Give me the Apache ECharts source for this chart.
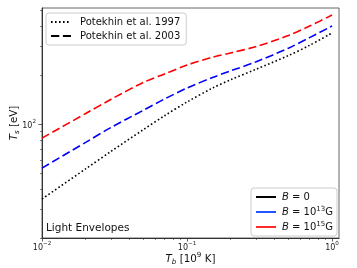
<!DOCTYPE html>
<html><head><meta charset="utf-8">
<script src="https://cdn.jsdelivr.net/npm/echarts@6/dist/echarts.min.js"></script>
<style>html,body{margin:0;padding:0;background:#fff}#c{width:357px;height:268px}</style>
</head><body><div id="c"></div>
<script>
// Core temperature T_b [10^9 K]
const tb    = [0.01, 0.02, 0.03, 0.05, 0.07, 0.1, 0.15, 0.2, 0.3, 0.5, 0.7, 1.0];
// Surface temperature T_s [eV]
const tsB0  = [34.7, 53.1, 68.1, 92.4, 112.5, 136.5, 166.3, 187, 217, 263, 304, 362];   // Potekhin 1997, B=0
const tsB13 = [53.7, 77.2, 95.4, 121.5, 142.5, 166.3, 193, 212, 241, 292, 339, 399];    // Potekhin 2003, B=1e13
const tsB15 = [82, 116, 142, 180, 203, 230, 257, 273, 299, 349, 399, 466];              // Potekhin 2003, B=1e15
const xMajor = [0.01, 0.1, 1];
const xMinor = [0.02,0.03,0.04,0.05,0.06,0.07,0.08,0.09,0.2,0.3,0.4,0.5,0.6,0.7,0.8,0.9];
const yMajor = [100];
const yMinor = [20,30,40,50,60,70,80,90,200,300,400,500];
const xRange = [0.01, 1.117];
const yRange = [20, 515];

const FONT = 'DejaVu Sans';
const L = Math.log10;
const pairs = ys => tb.map((x, i) => [L(x), L(ys[i])]);
const pow10 = v => { const e = Math.round(v); return '{b|10}{s|' + (e < 0 ? '\u2212' + (-e) : e) + '}'; };
const tickRich = {
  b: {fontSize: 8, fontFamily: FONT, color: '#222', lineHeight: 11, verticalAlign: 'bottom'},
  s: {fontSize: 5.6, fontFamily: FONT, color: '#222', verticalAlign: 'top'}
};
const NF = 10.3;
function nameStyle() {
  return {
    fontSize: NF, fontFamily: FONT, color: '#111',
    rich: {
      n: {fontSize: NF, fontFamily: FONT, color: '#111', lineHeight: 14},
      i: {fontSize: NF, fontFamily: FONT, fontStyle: 'italic', color: '#111', lineHeight: 14},
      sub: {fontSize: 7.2, fontFamily: FONT, fontStyle: 'italic', color: '#111', verticalAlign: 'bottom'},
      sup: {fontSize: 7.2, fontFamily: FONT, color: '#111', verticalAlign: 'top'}
    }
  };
}
const axisCol = '#333';

function mainX() {
  return {type: 'value', gridIndex: 0, position: 'bottom', min: L(xRange[0]), max: L(xRange[1]),
    axisLine: {show: true, onZero: false, lineStyle: {color: axisCol, width: 1}},
    axisTick: {show: true, length: 3.5, lineStyle: {color: axisCol, width: 0.8}, customValues: xMajor.map(L)},
    axisLabel: {show: true, customValues: xMajor.map(L), formatter: pow10, rich: tickRich, margin: 3},
    splitLine: {show: false},
    name: '{i|T}{sub|b}{n| [10}{sup|9}{n| K]}', nameLocation: 'middle', nameGap: 14, nameMoveOverlap: false,
    nameTextStyle: nameStyle()};
}
function minorX() {
  return {type: 'value', gridIndex: 0, position: 'bottom', min: L(xRange[0]), max: L(xRange[1]),
    axisLine: {show: false, onZero: false}, axisLabel: {show: false}, splitLine: {show: false},
    axisTick: {show: true, length: 2, lineStyle: {color: axisCol, width: 0.6}, customValues: xMinor.map(L)}};
}
function mainY() {
  return {type: 'value', gridIndex: 0, position: 'left', min: L(yRange[0]), max: L(yRange[1]),
    axisLine: {show: true, onZero: false, lineStyle: {color: axisCol, width: 1}},
    axisTick: {show: true, length: 3.5, lineStyle: {color: axisCol, width: 0.8}, customValues: yMajor.map(L)},
    axisLabel: {show: true, customValues: yMajor.map(L), formatter: pow10, rich: tickRich, margin: 6},
    splitLine: {show: false},
    name: '{i|T}{sub|s}{n| [eV]}', nameLocation: 'middle', nameGap: 21, nameRotate: 90, nameMoveOverlap: false,
    nameTextStyle: nameStyle()};
}
function minorY() {
  return {type: 'value', gridIndex: 0, position: 'left', min: L(yRange[0]), max: L(yRange[1]),
    axisLine: {show: false, onZero: false}, axisLabel: {show: false}, splitLine: {show: false},
    axisTick: {show: true, length: 2, lineStyle: {color: axisCol, width: 0.6}, customValues: yMinor.map(L)}};
}

const DASH = [8.3, 3.6];
const DOT = [1.6, 2.4];
function curve(name, ys, color, dash) {
  return {name, type: 'line', data: pairs(ys), symbol: 'none', showSymbol: false, smooth: 0.3,
    xAxisIndex: 0, yAxisIndex: 0, z: 3, silent: true,
    lineStyle: {color, width: 1.6, type: dash, cap: 'butt'}};
}
function dummy(name, color, type) {
  return {name, type: 'line', data: [], symbol: 'none', xAxisIndex: 0, yAxisIndex: 0,
    lineStyle: {color, width: 1.5, type}, itemStyle: {color}};
}

const legendLabels = {
  B0: '{i|B}{t| = 0}',
  B13: '{i|B}{t| = 10}{s|13}{t|G}',
  B15: '{i|B}{t| = 10}{s|15}{t|G}'
};
function legendText(padLeft) {
  return {
    fontSize: 10, fontFamily: FONT, color: '#111', padding: [0, 0, 0, padLeft],
    rich: {
      i: {fontSize: 10, fontFamily: FONT, fontStyle: 'italic', color: '#111', lineHeight: 12},
      t: {fontSize: 10, fontFamily: FONT, color: '#111', lineHeight: 12},
      s: {fontSize: 7, fontFamily: FONT, color: '#111', verticalAlign: 'top'}
    }
  };
}
const legendBase = {orient: 'vertical', itemWidth: 20, itemHeight: 10, itemGap: 4,
  backgroundColor: 'rgba(255,255,255,0.8)', borderColor: '#cccccc', borderWidth: 1, borderRadius: 3,
  selectedMode: false,
  itemStyle: {color: 'rgba(0,0,0,0)', borderWidth: 0, opacity: 0}};

const chart = echarts.init(document.getElementById('c'), null, {renderer: 'canvas'});
chart.setOption({
  animation: false,
  backgroundColor: '#fff',
  grid: {left: 42, right: 18, top: 8, bottom: 30, show: true, borderColor: '#666', borderWidth: 1,
    containLabel: false, outerBoundsMode: 'none'},
  title: {text: 'Light Envelopes', left: 46, top: 223, padding: 0,
    textStyle: {fontSize: 10.5, fontWeight: 'normal', fontFamily: FONT, color: '#111'}},
  xAxis: [mainX(), minorX()],
  yAxis: [mainY(), minorY()],
  legend: [
    Object.assign({}, legendBase, {data: ['Potekhin et al. 1997', 'Potekhin et al. 2003'], left: 46, top: 13,
      padding: [4, 6, 4, 4], textStyle: legendText(4)}),
    Object.assign({}, legendBase, {data: ['B0', 'B13', 'B15'], right: 20, top: 188, padding: [4, 4, 4, 4],
      textStyle: legendText(1), formatter: n => legendLabels[n]})
  ],
  series: [
    curve('B0 1997', tsB0, '#000000', DOT),
    curve('B13 2003', tsB13, '#0000ff', DASH),
    curve('B15 2003', tsB15, '#ff0000', DASH),
    dummy('Potekhin et al. 1997', '#000000', DOT),
    dummy('Potekhin et al. 2003', '#000000', DASH),
    dummy('B0', '#000000', 'solid'),
    dummy('B13', '#2255ff', 'solid'),
    dummy('B15', '#ff2a2a', 'solid')
  ]
});
</script></body></html>
